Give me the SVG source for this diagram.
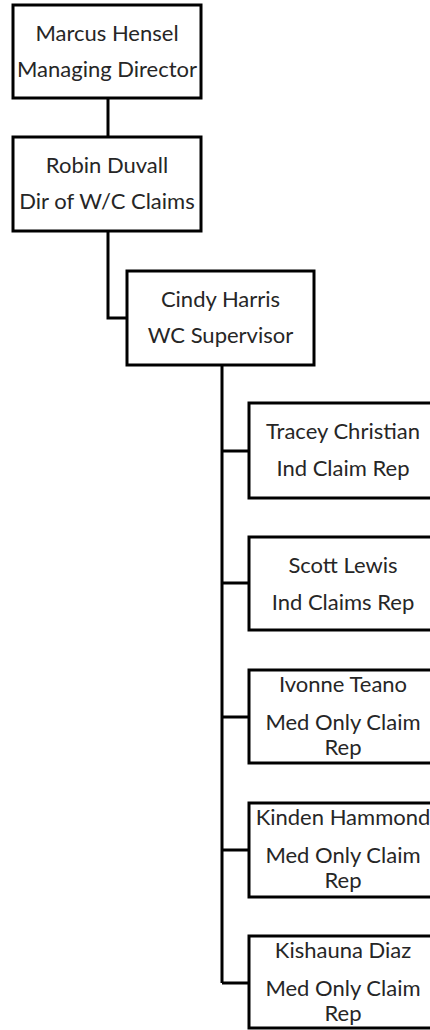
<svg xmlns="http://www.w3.org/2000/svg" width="430" height="1030" viewBox="0 0 430 1030">
<style>
.box{fill:#fff;stroke:#000;stroke-width:3}
.conn{fill:none;stroke:#000;stroke-width:3}
text{font-family:Lato,"Liberation Sans",sans-serif;font-size:22px;fill:#262626;text-anchor:middle}
</style>
<rect width="430" height="1030" fill="#fff"/>
<g id="connectors">
<path class="conn" d="M108,98V137"/>
<path class="conn" d="M108,231V318H127"/>
<path class="conn" d="M222,365V983"/>
<path class="conn" d="M222,451H249M222,583H249M222,717H249M222,850H249M222,983H249"/>
</g>
<g id="marcus"><rect class="box" x="13" y="5" width="188" height="93"/><text x="107" y="41">Marcus Hensel</text><text x="107" y="77">Managing Director</text></g>
<g id="robin"><rect class="box" x="13" y="137" width="188" height="94"/><text x="107" y="173">Robin Duvall</text><text x="107" y="209">Dir of W/C Claims</text></g>
<g id="cindy"><rect class="box" x="127" y="271" width="187" height="94"/><text x="220.5" y="307">Cindy Harris</text><text x="220.5" y="343">WC Supervisor</text></g>
<g id="tracey"><rect class="box" x="249" y="403" width="188" height="95"/><text x="343" y="439">Tracey Christian</text><text x="343" y="476">Ind Claim Rep</text></g>
<g id="scott"><rect class="box" x="249" y="537" width="188" height="93"/><text x="343" y="573">Scott Lewis</text><text x="343" y="610">Ind Claims Rep</text></g>
<g id="ivonne"><rect class="box" x="249" y="670" width="188" height="93"/><text x="343" y="692">Ivonne Teano</text><text x="343" y="730">Med Only Claim</text><text x="343" y="755">Rep</text></g>
<g id="kinden"><rect class="box" x="249" y="803" width="188" height="94"/><text x="343" y="825">Kinden Hammond</text><text x="343" y="863">Med Only Claim</text><text x="343" y="888">Rep</text></g>
<g id="kishauna"><rect class="box" x="249" y="936" width="188" height="92"/><text x="343" y="958">Kishauna Diaz</text><text x="343" y="996">Med Only Claim</text><text x="343" y="1021">Rep</text></g>
</svg>
